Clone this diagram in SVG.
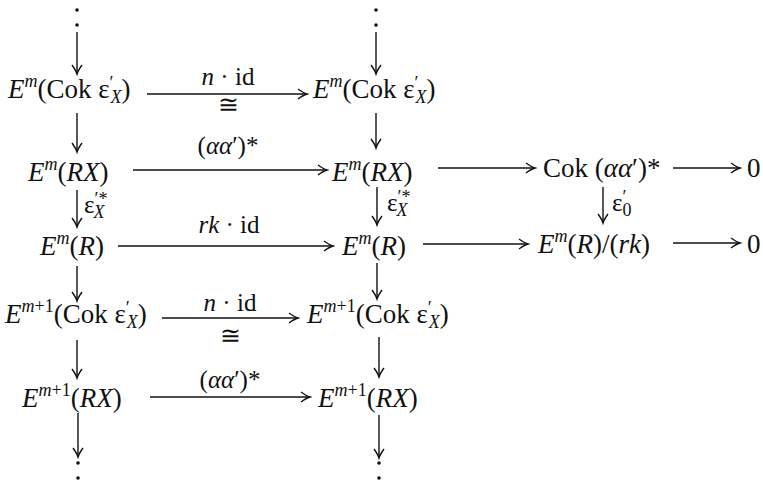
<svg xmlns="http://www.w3.org/2000/svg" width="763" height="482" viewBox="0 0 763 482" font-family="'Liberation Serif', 'Times New Roman', Tinos, 'DejaVu Serif', serif">
<defs>
<style>
text{font-family:'Liberation Serif','Times New Roman',Tinos,'DejaVu Serif',serif;fill:#111}
.t{font-size:27px}
.l{font-size:25px}
.e{font-size:25px}
.i{font-style:italic}
.s{font-size:18px}
.c line{stroke:#111;stroke-width:1.4;marker-end:url(#ah)}
.d{fill:#111}
</style>
<marker id="ah" viewBox="-11 -7 13 14" refX="0" refY="0" markerWidth="13" markerHeight="14" markerUnits="userSpaceOnUse" orient="auto">
<path d="M-9,-5 Q-3.5,-1 0,0 Q-3.5,1 -9,5" fill="none" stroke="#111" stroke-width="1.4"/>
</marker>
</defs>
<rect width="763" height="482" fill="#fff"/>

<g id="dots-top" class="d">
<circle cx="77" cy="10" r="1.8"/><circle cx="77" cy="25" r="1.8"/>
<circle cx="376" cy="10" r="1.8"/><circle cx="376" cy="25" r="1.8"/>
</g>
<g id="dots-bottom" class="d">
<circle cx="78" cy="463" r="1.8"/><circle cx="78" cy="478" r="1.8"/>
<circle cx="379" cy="463" r="1.8"/><circle cx="379" cy="478" r="1.8"/>
</g>

<g id="n11"><text class="t" x="8" y="98"><tspan class="i">E</tspan><tspan class="i s" dy="-11">m</tspan><tspan dy="11">(Cok ε</tspan><tspan class="s" dy="-9">′</tspan><tspan class="i s" dx="-3" dy="14">X</tspan><tspan dy="-5">)</tspan></text></g>
<g id="n12"><text class="t" x="313" y="98"><tspan class="i">E</tspan><tspan class="i s" dy="-11">m</tspan><tspan dy="11">(Cok ε</tspan><tspan class="s" dy="-9">′</tspan><tspan class="i s" dx="-3" dy="14">X</tspan><tspan dy="-5">)</tspan></text></g>

<g id="n21"><text class="t" x="28" y="181"><tspan class="i">E</tspan><tspan class="i s" dy="-11">m</tspan><tspan dy="11">(</tspan><tspan class="i">RX</tspan>)</text></g>
<g id="n22"><text class="t" x="332" y="181"><tspan class="i">E</tspan><tspan class="i s" dy="-11">m</tspan><tspan dy="11">(</tspan><tspan class="i">RX</tspan>)</text></g>
<g id="n23"><text class="t" x="543" y="177">Cok (<tspan class="i">αα</tspan>′)*</text></g>
<g id="n24"><text class="t" x="747" y="177">0</text></g>

<g id="n31"><text class="t" x="40" y="255"><tspan class="i">E</tspan><tspan class="i s" dy="-11">m</tspan><tspan dy="11">(</tspan><tspan class="i">R</tspan>)</text></g>
<g id="n32"><text class="t" x="342" y="255"><tspan class="i">E</tspan><tspan class="i s" dy="-11">m</tspan><tspan dy="11">(</tspan><tspan class="i">R</tspan>)</text></g>
<g id="n33"><text class="t" x="538" y="253"><tspan class="i">E</tspan><tspan class="i s" dy="-11">m</tspan><tspan dy="11">(</tspan><tspan class="i">R</tspan>)/(<tspan class="i">rk</tspan>)</text></g>
<g id="n34"><text class="t" x="747" y="253">0</text></g>

<g id="n41"><text class="t" x="5" y="323"><tspan class="i">E</tspan><tspan class="s" dy="-11"><tspan class="i">m</tspan>+1</tspan><tspan dy="11">(Cok ε</tspan><tspan class="s" dy="-9">′</tspan><tspan class="i s" dx="-3" dy="14">X</tspan><tspan dy="-5">)</tspan></text></g>
<g id="n42"><text class="t" x="307" y="323"><tspan class="i">E</tspan><tspan class="s" dy="-11"><tspan class="i">m</tspan>+1</tspan><tspan dy="11">(Cok ε</tspan><tspan class="s" dy="-9">′</tspan><tspan class="i s" dx="-3" dy="14">X</tspan><tspan dy="-5">)</tspan></text></g>

<g id="n51"><text class="t" x="22" y="407"><tspan class="i">E</tspan><tspan class="s" dy="-11"><tspan class="i">m</tspan>+1</tspan><tspan dy="11">(</tspan><tspan class="i">RX</tspan>)</text></g>
<g id="n52"><text class="t" x="318" y="407"><tspan class="i">E</tspan><tspan class="s" dy="-11"><tspan class="i">m</tspan>+1</tspan><tspan dy="11">(</tspan><tspan class="i">RX</tspan>)</text></g>

<g id="connectors" class="c">
<line x1="77" y1="32" x2="77" y2="74"/>
<line x1="376" y1="32" x2="376" y2="74"/>
<line x1="147" y1="94" x2="307" y2="94"/>
<line x1="77" y1="113" x2="77" y2="152"/>
<line x1="376" y1="113" x2="376" y2="148"/>
<line x1="133" y1="170" x2="327" y2="170"/>
<line x1="438" y1="168" x2="535" y2="168"/>
<line x1="673" y1="168" x2="740" y2="168"/>
<line x1="77" y1="190" x2="77" y2="227"/>
<line x1="377" y1="187" x2="377" y2="225"/>
<line x1="603" y1="187" x2="603" y2="223"/>
<line x1="118" y1="246" x2="333" y2="246"/>
<line x1="423" y1="244" x2="528" y2="244"/>
<line x1="673" y1="243" x2="740" y2="243"/>
<line x1="77" y1="266" x2="77" y2="301"/>
<line x1="377" y1="263" x2="377" y2="299"/>
<line x1="162" y1="318" x2="298" y2="318"/>
<line x1="77" y1="340" x2="77" y2="378"/>
<line x1="379" y1="337" x2="379" y2="377"/>
<line x1="150" y1="397" x2="310" y2="397"/>
<line x1="78" y1="413" x2="78" y2="457"/>
<line x1="379" y1="415" x2="379" y2="458"/>
</g>

<g id="labels">
<text class="l" x="228" y="85" text-anchor="middle"><tspan class="i">n</tspan> · id</text>
<text class="l" x="228" y="113" text-anchor="middle">≅</text>
<text class="l" x="228" y="154" text-anchor="middle">(<tspan class="i">αα</tspan>′)*</text>
<text class="l" x="229" y="233" text-anchor="middle"><tspan class="i">rk</tspan> · id</text>
<text class="l" x="230" y="311" text-anchor="middle"><tspan class="i">n</tspan> · id</text>
<text class="l" x="230" y="344" text-anchor="middle">≅</text>
<text class="l" x="230" y="388" text-anchor="middle">(<tspan class="i">αα</tspan>′)*</text>
<text class="e" x="84" y="213">ε<tspan class="s" dy="-8">′*</tspan><tspan class="i s" dx="-14" dy="13">X</tspan></text>
<text class="e" x="387" y="211">ε<tspan class="s" dy="-8">′*</tspan><tspan class="i s" dx="-14" dy="13">X</tspan></text>
<text class="e" x="612" y="211">ε<tspan class="s" dy="-8">′</tspan><tspan class="s" dx="-4" dy="13">0</tspan></text>
</g>
</svg>
